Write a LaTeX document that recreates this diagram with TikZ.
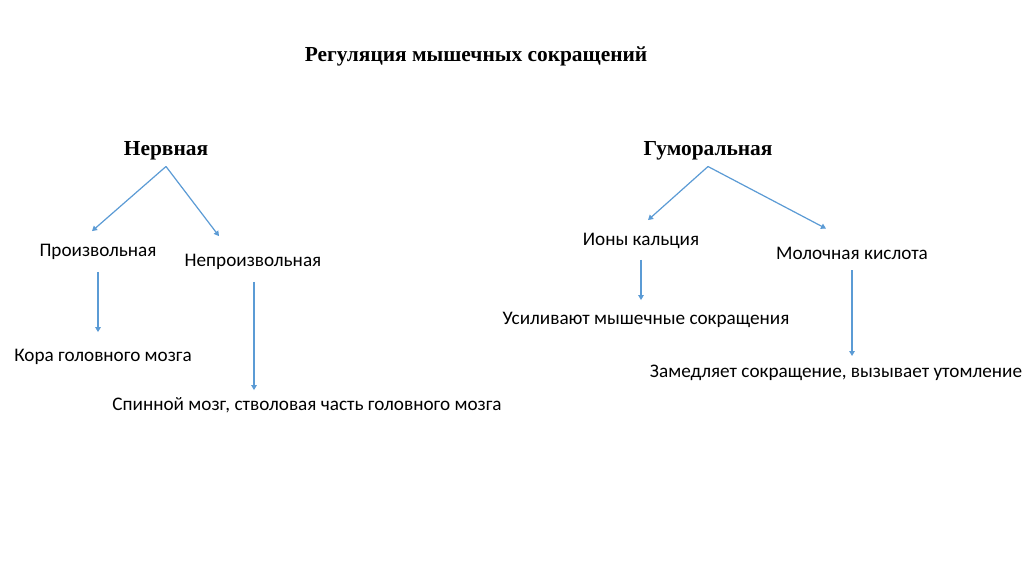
\documentclass[tikz,border=0pt]{standalone}
\usepackage{fontspec}
\setmainfont{Carlito}
\newfontfamily\headfont{Liberation Serif}
\usetikzlibrary{arrows.meta,calc}
\definecolor{arrowblue}{RGB}{91,155,213}
\tikzset{
  head/.style={font=\headfont\bfseries\fontsize{21.4}{24}\selectfont, inner sep=0pt, anchor=center},
  body/.style={font=\fontsize{19.2}{23}\selectfont, inner sep=0pt, anchor=center},
  link/.style={draw=arrowblue, line width=1.2pt, -{Triangle[length=5pt,width=5.5pt]}}
}
\begin{document}
\begin{tikzpicture}[x=1pt,y=-1pt]
\useasboundingbox[fill=white] (0,0) rectangle (1024,574);
\node[head] (title) at (476,56) {Регуляция мышечных сокращений};
\node[head] (nerv) at (166,151) {Нервная};
\node[head] (hum) at (708,151) {Гуморальная};
\node[body] (vol) at (98,252) {Произвольная};
\node[body] (invol) at (253,262) {Непроизвольная};
\node[body] (cortex) at (103,357) {Кора головного мозга};
\node[body] (spinal) at (307,405) {Спинной мозг, стволовая часть головного мозга};
\node[body] (ca) at (641,241) {Ионы кальция};
\node[body] (lactic) at (852,253) {Молочная кислота};
\node[body] (enh) at (646,320) {Усиливают мышечные сокращения};
\node[body] (slow) at (836,373) {Замедляет сокращение, вызывает утомление};

\draw[link] ($(nerv.south)+(0,6)$) -- ($(vol.north)+(-6,-13)$);
\draw[link] ($(nerv.south)+(0,6)$) -- ($(invol.north)+(-34,-18)$);
\draw[link] ($(hum.south)+(0,6)$) -- ($(ca.north)+(7,-13)$);
\draw[link] ($(hum.south)+(0,6)$) -- ($(lactic.north)+(-26,-18)$);
\draw[link] ($(vol.south)+(0,12)$) -- ($(cortex.north)+(-5,-17)$);
\draw[link] ($(invol.south)+(1,12)$) -- ($(spinal.north)+(-53,-7)$);
\draw[link] ($(ca.south)+(0,11)$) -- ($(enh.north)+(-5,-12)$);
\draw[link] ($(lactic.south)+(0,11)$) -- ($(slow.north)+(16,-9)$);
\end{tikzpicture}
\end{document}
